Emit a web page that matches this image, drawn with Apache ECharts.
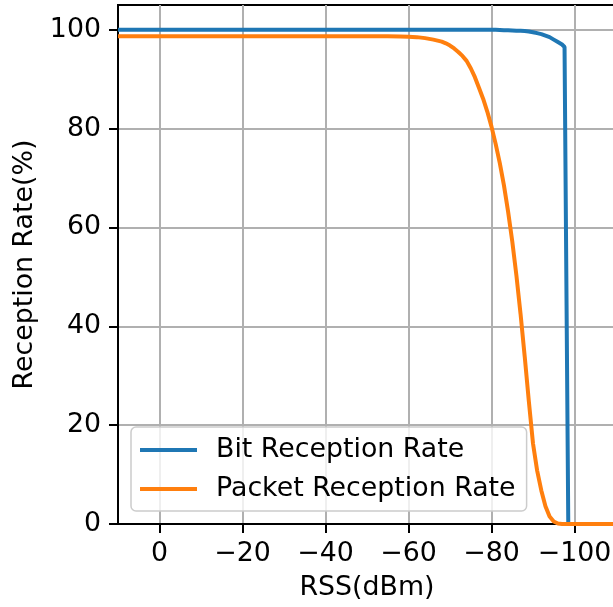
<!DOCTYPE html>
<html>
<head>
<meta charset="utf-8">
<script src="https://cdn.jsdelivr.net/npm/echarts@6/dist/echarts.min.js"></script>
<style>
  html, body { margin: 0; padding: 0; background: #fff; overflow: hidden; }
  /* the axes box runs a few pixels past the right edge of the window */
  #chart { width: 617px; height: 607px; }
</style>
</head>
<body>
<div id="chart"></div>
<script>
// Received signal strength (dBm) sample points shared by both curves
const rss = [10, -55, -58, -60, -62, -64, -66, -67, -68, -69, -70, -71, -72, -73, -74, -75,
  -76, -77, -78, -79, -80, -81, -82, -83, -84, -85, -86, -87, -88, -89, -90, -91, -92,
  -93, -94, -95, -96, -97, -97.6, -98.5, -110];

// Bit reception rate (%)
const bitRate = [100, 100, 100, 100, 100, 100, 100, 100, 100, 100, 100, 100, 100, 100, 100, 100,
  100, 100, 100, 100, 100, 100, 99.95, 99.9, 99.9, 99.85, 99.8, 99.8, 99.75, 99.65, 99.5, 99.3, 99.1,
  98.8, 98.5, 98.0, 97.5, 97.0, 96.5, 0, 0];

// Packet reception rate (%)
const packetRate = [98.7, 98.7, 98.65, 98.6, 98.5, 98.3, 98.0, 97.8, 97.6, 97.25, 96.8, 96.2, 95.5, 94.7, 93.7, 92.2,
  90.4, 88.2, 86.0, 83.4, 80.4, 76.9, 73.0, 68.5, 63.2, 57.2, 50.3, 42.5, 33.9, 24.8, 16.3, 10.8, 6.8,
  3.6, 1.5, 0.5, 0.1, 0, 0, 0, 0];

const xTicks = [0, -20, -40, -60, -80, -100];
const yTicks = [0, 20, 40, 60, 80, 100];

const seriesNames = ['Bit Reception Rate', 'Packet Reception Rate'];
const colors = ['#1f77b4', '#ff7f0e'];

const font = 'DejaVu Sans';
const fs = 26.8;

function pairs(xs, ys) {
  return xs.map((x, i) => [x, ys[i]]);
}

const chart = echarts.init(document.getElementById('chart'), null, { renderer: 'canvas' });

const axisCommon = {
  axisLine: { show: true, onZero: false, lineStyle: { color: '#000', width: 2 } },
  axisTick: { show: true, inside: false, length: 9, lineStyle: { color: '#000', width: 2 } },
  splitLine: { show: true, lineStyle: { color: '#b0b0b0', width: 2 } },
  nameTextStyle: { fontFamily: font, fontSize: fs, color: '#000' }
};

chart.setOption({
  backgroundColor: '#fff',
  animation: false,
  grid: {
    left: 118, top: 5, right: 1, height: 520,
    show: true, borderColor: '#000', borderWidth: 2, backgroundColor: 'transparent'
  },
  xAxis: Object.assign({}, axisCommon, {
    type: 'value',
    inverse: true,
    min: -110,
    max: 10,
    name: 'RSS(dBm)',
    nameLocation: 'middle',
    nameGap: 51,
    axisTick: Object.assign({}, axisCommon.axisTick, { customValues: xTicks }),
    axisLabel: {
      customValues: xTicks,
      margin: 17,
      fontFamily: font, fontSize: fs, color: '#000',
      formatter: v => (v < 0 ? '\u2212' + Math.abs(v) : String(v))
    }
  }),
  yAxis: Object.assign({}, axisCommon, {
    type: 'value',
    min: 0,
    max: 105,
    name: 'Reception Rate(%)',
    nameLocation: 'middle',
    nameGap: 78,
    axisTick: Object.assign({}, axisCommon.axisTick, { customValues: yTicks }),
    axisLabel: {
      customValues: yTicks,
      margin: 17,
      fontFamily: font, fontSize: fs, color: '#000'
    }
  }),
  legend: {
    orient: 'vertical',
    left: 131,
    top: 427,
    padding: [9.5, 11, 8.5, 9],
    itemGap: 12,
    itemWidth: 57,
    itemHeight: 4,
    icon: 'rect',
    backgroundColor: 'rgba(255,255,255,0.8)',
    borderColor: '#cccccc',
    borderWidth: 1.5,
    borderRadius: 5,
    textStyle: {
      fontFamily: font, fontSize: fs, color: '#000', lineHeight: 27,
      padding: [0, 0, 0, 14]
    },
    data: seriesNames
  },
  series: [
    {
      name: seriesNames[0],
      type: 'line',
      data: pairs(rss, bitRate),
      showSymbol: false,
      symbol: 'none',
      lineStyle: { color: colors[0], width: 4 },
      itemStyle: { color: colors[0] },
      z: 3
    },
    {
      name: seriesNames[1],
      type: 'line',
      data: pairs(rss, packetRate),
      showSymbol: false,
      symbol: 'none',
      lineStyle: { color: colors[1], width: 4 },
      itemStyle: { color: colors[1] },
      z: 4
    }
  ]
});
</script>
</body>
</html>
